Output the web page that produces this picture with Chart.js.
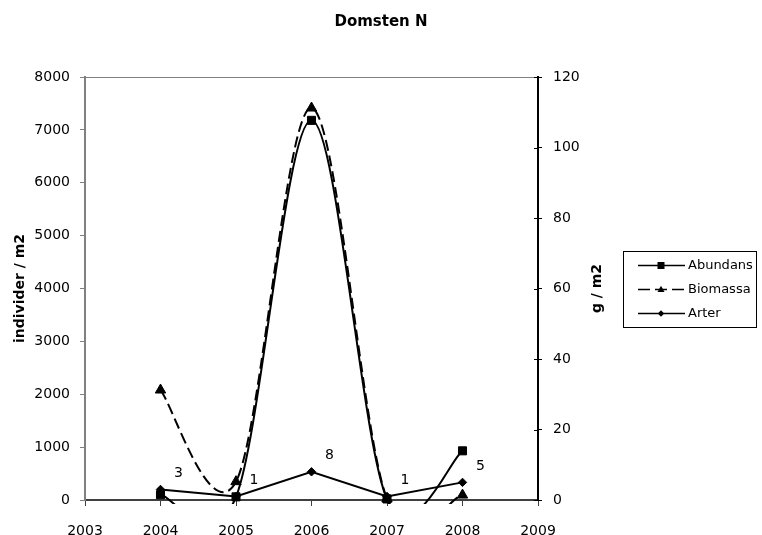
<!DOCTYPE html>
<html><head><meta charset="utf-8">
<script src="https://cdn.jsdelivr.net/npm/chart.js@4/dist/chart.umd.min.js"></script>
<style>html,body{margin:0;padding:0;background:#fff;}</style>
</head><body>
<canvas id="c" width="762" height="535"></canvas>
<script>
// ---- data ----
const years = [2004, 2005, 2006, 2007, 2008];
const abundans = [100, 60, 7180, 20, 930];      // individer / m2 (left axis)
const biomassa = [31.2, 5.2, 111.2, 0.3, 1.4];  // g / m2 (right axis)
const arter = [3, 1, 8, 1, 5];                  // antal arter (right axis)
const arterLabels = ['3', '1', '8', '1', '5'];
const seriesNames = ['Abundans', 'Biomassa', 'Arter'];
const xTicks = [2003, 2004, 2005, 2006, 2007, 2008, 2009];
const leftTicks = [0, 1000, 2000, 3000, 4000, 5000, 6000, 7000, 8000];
const rightTicks = [0, 20, 40, 60, 80, 100, 120];
const chartTitle = 'Domsten N';
const leftTitle = 'individer / m2';
const rightTitle = 'g / m2';

const FONT = 'DejaVu Sans';

// Excel-style smoothing: control points = P +- (P[i+1]-P[i-1])/6
const excelSmooth = {
  id: 'excelSmooth',
  beforeDatasetDraw(chart, args, opts) {
    if (!opts.datasets || opts.datasets.indexOf(args.index) < 0) return;
    const meta = args.meta;
    const line = meta.dataset;
    line.updateControlPoints(chart.chartArea, meta.iScale.axis);
    const pts = meta.data;
    const n = pts.length;
    for (let i = 0; i < n; i++) {
      const p = pts[i];
      const prev = pts[Math.max(i - 1, 0)];
      const next = pts[Math.min(i + 1, n - 1)];
      const tx = (next.x - prev.x) / 6, ty = (next.y - prev.y) / 6;
      p.cp1x = p.x - tx; p.cp1y = p.y - ty;
      p.cp2x = p.x + tx; p.cp2y = p.y + ty;
    }
    line._path = undefined;
  }
};

function marker(ctx, style, x, y, s) {
  ctx.beginPath();
  if (style === 'rect') {
    ctx.rect(x - s, y - s, 2 * s, 2 * s);
  } else if (style === 'triangle') {
    ctx.moveTo(x, y - s * 1.2);
    ctx.lineTo(x + s * 1.1, y + s * 0.8);
    ctx.lineTo(x - s * 1.1, y + s * 0.8);
    ctx.closePath();
  } else {
    ctx.moveTo(x, y - s); ctx.lineTo(x + s, y); ctx.lineTo(x, y + s); ctx.lineTo(x - s, y); ctx.closePath();
  }
  ctx.fill();
}

const extras = {
  id: 'extras',
  afterDatasetsDraw(chart) {
    const ctx = chart.ctx;
    // Arter data labels
    const meta = chart.getDatasetMeta(2);
    ctx.save();
    ctx.fillStyle = '#000';
    ctx.font = '14px "' + FONT + '"';
    ctx.textAlign = 'center';
    ctx.textBaseline = 'middle';
    meta.data.forEach((pt, i) => {
      ctx.fillText(arterLabels[i], pt.x + 18, pt.y - 16);
    });
    ctx.restore();
  },
  afterDraw(chart) {
    const ctx = chart.ctx;
    const a = chart.chartArea;
    ctx.save();
    // top border of plot area
    ctx.strokeStyle = '#808080';
    ctx.lineWidth = 1;
    ctx.beginPath();
    ctx.moveTo(a.left, Math.round(a.top) + 0.5);
    ctx.lineTo(a.right, Math.round(a.top) + 0.5);
    ctx.stroke();
    // inward tick marks on right axis
    const y1 = chart.scales.y1;
    ctx.strokeStyle = '#000';
    y1.ticks.forEach(t => {
      const py = Math.round(y1.getPixelForValue(t.value)) + 0.5;
      ctx.beginPath();
      ctx.moveTo(a.right - 4, py);
      ctx.lineTo(a.right, py);
      ctx.stroke();
    });
    // right axis title (reads bottom to top)
    ctx.save();
    ctx.translate(a.right + 59, (a.top + a.bottom) / 2);
    ctx.rotate(-Math.PI / 2);
    ctx.font = 'bold 14px "' + FONT + '"';
    ctx.fillStyle = '#000';
    ctx.textAlign = 'center';
    ctx.textBaseline = 'middle';
    ctx.fillText(rightTitle, 0, 0);
    ctx.restore();
    // legend
    const lx = a.right + 85, ly = (a.top + a.bottom) / 2 - 38;
    const lw = 133, lh = 76;
    ctx.strokeStyle = '#000';
    ctx.lineWidth = 1;
    ctx.strokeRect(Math.round(lx) + 0.5, Math.round(ly) + 0.5, lw, lh);
    const styles = ['rect', 'triangle', 'rectRot'];
    const sizes = [3.5, 3.2, 3.2];
    ctx.font = '13px "' + FONT + '"';
    ctx.textAlign = 'left';
    ctx.textBaseline = 'middle';
    seriesNames.forEach((name, i) => {
      const ry = Math.round(ly + 14 + i * 24) + 0.5;
      ctx.strokeStyle = '#000';
      ctx.fillStyle = '#000';
      ctx.lineWidth = 1.5;
      ctx.setLineDash(i === 1 ? [12, 5] : []);
      ctx.beginPath();
      ctx.moveTo(lx + 15, ry);
      ctx.lineTo(lx + 62, ry);
      ctx.stroke();
      ctx.setLineDash([]);
      marker(ctx, styles[i], lx + 38, ry, sizes[i]);
      ctx.fillText(name, lx + 65, ry);
    });
    ctx.restore();
  }
};

const clipBox = {left: 8, top: 8, right: 8, bottom: 4};

new Chart(document.getElementById('c'), {
  type: 'line',
  data: {
    datasets: [
      {
        label: seriesNames[0],
        data: years.map((x, i) => ({x: x, y: abundans[i]})),
        yAxisID: 'y',
        borderColor: '#000', backgroundColor: '#000', borderWidth: 2,
        pointStyle: 'rect', pointRadius: 5.7, pointBorderWidth: 1,
        pointBackgroundColor: '#000', pointBorderColor: '#000',
        tension: 0.4, clip: clipBox
      },
      {
        label: seriesNames[1],
        data: years.map((x, i) => ({x: x, y: biomassa[i]})),
        yAxisID: 'y1',
        borderColor: '#000', backgroundColor: '#000', borderWidth: 2,
        borderDash: [11, 5],
        pointStyle: 'triangle', pointRadius: 6, pointBorderWidth: 1,
        pointBackgroundColor: '#000', pointBorderColor: '#000',
        tension: 0.4, clip: clipBox
      },
      {
        label: seriesNames[2],
        data: years.map((x, i) => ({x: x, y: arter[i]})),
        yAxisID: 'y1',
        borderColor: '#000', backgroundColor: '#000', borderWidth: 2,
        pointStyle: 'rectRot', pointRadius: 4.2, pointBorderWidth: 1,
        pointBackgroundColor: '#000', pointBorderColor: '#000',
        tension: 0, clip: clipBox
      }
    ]
  },
  options: {
    responsive: false,
    animation: false,
    devicePixelRatio: 1,
    layout: {padding: 0},
    elements: {line: {capBezierPoints: false}},
    plugins: {
      legend: {display: false},
      tooltip: {enabled: false},
      excelSmooth: {datasets: [0, 1]},
      title: {
        display: true, text: chartTitle, color: '#000',
        font: {family: FONT, size: 15, weight: 'bold'},
        padding: {top: 13, bottom: 46}
      }
    },
    scales: {
      x: {
        type: 'linear', position: 'bottom', min: 2003, max: 2009,
        afterBuildTicks: s => { s.ticks = xTicks.map(v => ({value: v})); },
        afterFit: s => { s.height = 35; },
        ticks: {color: '#000', font: {family: FONT, size: 14}, padding: 17, callback: v => String(v), autoSkip: false, maxRotation: 0},
        grid: {drawOnChartArea: false, tickLength: 6, color: '#404040', lineWidth: 1},
        border: {color: '#404040', width: 2}
      },
      y: {
        type: 'linear', position: 'left', min: 0, max: 8000,
        afterBuildTicks: s => { s.ticks = leftTicks.map(v => ({value: v})); },
        afterFit: s => { s.width = 85; },
        ticks: {color: '#000', font: {family: FONT, size: 14}, padding: 10, callback: v => String(v)},
        grid: {drawOnChartArea: false, tickLength: 5, color: '#808080', lineWidth: 1},
        border: {color: '#808080', width: 2},
        title: {display: true, text: leftTitle, color: '#000', font: {family: FONT, size: 14, weight: 'bold'}, padding: {top: 12, bottom: 0}}
      },
      y1: {
        type: 'linear', position: 'right', min: 0, max: 120,
        afterBuildTicks: s => { s.ticks = rightTicks.map(v => ({value: v})); },
        afterFit: s => { s.width = 224; },
        ticks: {color: '#000', font: {family: FONT, size: 14}, padding: 11, callback: v => String(v)},
        grid: {drawOnChartArea: false, tickLength: 4, color: '#000', lineWidth: 1},
        border: {color: '#000', width: 2}
      }
    }
  },
  plugins: [excelSmooth, extras]
});
</script>
</body></html>
